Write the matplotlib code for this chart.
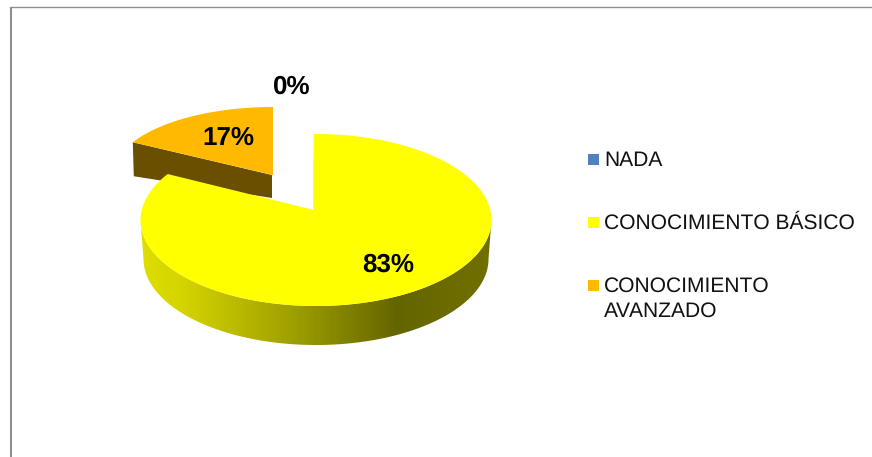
import numpy as np
import matplotlib
matplotlib.use('Agg')
import matplotlib.pyplot as plt
from matplotlib.colors import LinearSegmentedColormap
from matplotlib.patches import Polygon, Rectangle

plt.rcParams['font.family'] = ['Liberation Sans', 'DejaVu Sans']
plt.rcParams['text.hinting'] = 'no_hinting'
plt.rcParams['text.hinting_factor'] = 1

categories = ['NADA', 'CONOCIMIENTO BÁSICO', 'CONOCIMIENTO\nAVANZADO']
percents = [0, 83, 17]
colors = ['#4F81BD', '#FFFF00', '#FFBA00']
label_xy = [(292, 86), (388, 264), (228, 137)]
legend_y = [159, 222, 285]


def arc(cx, cy, rx, ry, a0, a1, n=200):
    # angles clockwise from the top, in degrees
    t = np.radians(np.linspace(a0, a1, n))
    return np.column_stack([cx + rx * np.sin(t), cy - ry * np.cos(t)])


fig = plt.figure(figsize=(8.72, 4.57), dpi=100)
ax = fig.add_axes([0, 0, 1, 1])
ax.axis('off')

# frame of the pasted picture
ax.plot([10.5, 10.5], [457, 6.5], color='#8f8f8f', lw=1.5, solid_capstyle='butt')
ax.plot([10, 872], [6.5, 6.5], color='#8f8f8f', lw=1.0, solid_capstyle='butt')

# angles come from the values
fractions = np.array(percents) / sum(percents)
ends = np.cumsum(fractions) * 360
yellow_end = ends[1]

# exploded orange slice
ocx, ocy, orx, ory, odepth = 273, 175, 160, 68, 23
oa = arc(ocx, ocy, orx, ory, yellow_end, 360)
corner = oa[0]
ax.add_patch(Polygon([corner, (ocx - 1, ocy), (ocx - 1, ocy + odepth), (corner[0] + 1, corner[1] + 34)],
                     fc='#6B4F00', ec='none', zorder=2))
ax.add_patch(Polygon(np.vstack([[(ocx, ocy)], oa]), fc=colors[2], ec='none', zorder=3))

# yellow slice side with the shading
ycx, ycy, yrx, yry = 316, 220, 175.5, 86
top_edge = arc(ycx, ycy, yrx, yry, 90, 270)
low_edge = arc(ycx, ycy + 39, yrx - 3, yry, 90, 270)
side = Polygon(np.vstack([top_edge, low_edge[::-1]]), fc='none', ec='none', zorder=4)
ax.add_patch(side)
shade = LinearSegmentedColormap.from_list('shade', [
    (0.0, '#DEDE00'), (0.12, '#D4D400'), (0.45, '#9C9C00'),
    (0.73, '#656500'), (1.0, '#707000')])
im = ax.imshow(np.linspace(0, 1, 256).reshape(1, -1), cmap=shade, aspect='auto',
               extent=[140, 491, 350, 210], zorder=4)
im.set_clip_path(side)

# yellow top face, the perspective moves its centre and cut a little
ya = arc(ycx, ycy, yrx, yry, 0, yellow_end + 3.5)
ax.plot([314, 314], [160, 210], color='#6E6E20', lw=0.9, zorder=4)
ax.add_patch(Polygon(np.vstack([[(314, 210), (313.5, 134.5)], ya]), fc=colors[1], ec='none', zorder=5))

ax.set_xlim(0, 872)
ax.set_ylim(457, 0)

for p, xy in zip(percents, label_xy):
    ax.text(xy[0], xy[1] + 1, f'{p}%', fontsize=19, fontweight='bold', color='black',
            ha='center', va='center', zorder=6)

for name, c, y in zip(categories, colors, legend_y):
    ax.add_patch(Rectangle((588, y - 5.5), 11, 11, fc=c, ec='none', zorder=6))
    # first line lines up with the marker
    ax.text(604, y - 8, name, fontsize=15.3, color='#111111', ha='left', va='top',
            linespacing=1.3, zorder=6)

fig.savefig('out.png', dpi=100)
